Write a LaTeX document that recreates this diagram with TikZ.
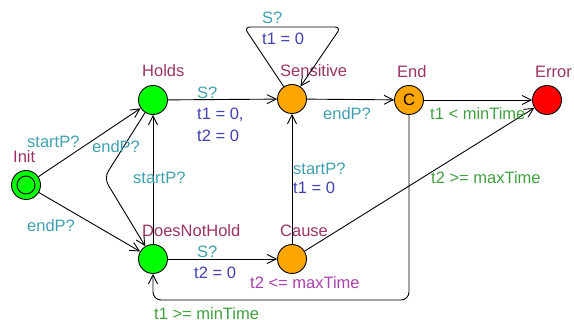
\documentclass[tikz,border=0pt]{standalone}
\usepackage{fontspec}
\setmainfont{Liberation Sans}
\usetikzlibrary{arrows.meta}

\definecolor{locname}{RGB}{153,51,102}
\definecolor{synccol}{RGB}{64,160,176}
\definecolor{assigncol}{RGB}{64,64,176}
\definecolor{guardcol}{RGB}{64,160,64}
\definecolor{invcol}{RGB}{170,64,170}
\definecolor{locorange}{RGB}{255,165,0}
\definecolor{locgreen}{RGB}{0,255,0}
\definecolor{locred}{RGB}{255,0,0}

\begin{document}
\begin{tikzpicture}[x=1pt,y=-1pt,
  loc/.style={circle, draw=black, line width=0.9pt, minimum size=29pt, inner sep=0pt},
  lbl/.style={anchor=west, inner sep=0pt, text height=16pt, text depth=2pt,
              font=\fontsize{16.5}{18}\selectfont},
  lname/.style={lbl, text=locname},
  synclbl/.style={lbl, text=synccol},
  assignlbl/.style={lbl, text=assigncol},
  guardlbl/.style={lbl, text=guardcol},
  invlbl/.style={lbl, text=invcol},
  edge/.style={draw=black, line width=0.9pt, -{Straight Barb[length=9pt,width=9pt]}}]

\useasboundingbox (0,0) rectangle (574,320);

% locations
\node[loc, fill=locgreen] (init) at (26,185) {};
\node[circle, draw=black, line width=0.9pt, minimum size=18pt, inner sep=0pt] (initmark) at (init) {};
\node[loc, fill=locgreen] (holds) at (153,100) {};
\node[loc, fill=locgreen] (dnh) at (153,259) {};
\node[loc, fill=locorange] (sens) at (292,99) {};
\node[loc, fill=locorange, font=\fontsize{16.5}{18}\selectfont] (end) at (409,100) {C};
\node[loc, fill=locred] (err) at (547,100) {};
\node[loc, fill=locorange] (cause) at (292,259) {};

% location names
\node[lname] (nInit) at (13,156) {Init};
\node[lname] (nHolds) at (142,70) {Holds};
\node[lname] (nSens) at (280,70) {Sensitive};
\node[lname] (nEnd) at (397,71) {End};
\node[lname] (nErr) at (535,71) {Error};
\node[lname] (nDnh) at (142,230) {DoesNotHold};
\node[lname] (nCause) at (280,230) {Cause};

% corner points of bent edges
\coordinate (bend) at (104,178);
\coordinate (loopL) at (244,27);
\coordinate (loopR) at (341,27);
\coordinate (c1) at (409,300);
\coordinate (c2) at (153,300);

% edges
\draw[edge] (init) -- (holds);
\draw[edge] (init) -- (dnh);
\draw[edge, rounded corners=8pt] (holds) -- (bend) -- (dnh);
\draw[edge] (dnh) -- (holds);
\draw[edge] (holds) -- (sens);
\draw[edge, rounded corners=6pt] (sens) -- (loopL) -- (loopR) -- (sens);
\draw[edge] (sens) -- (end);
\draw[edge] (end) -- (err);
\draw[edge] (cause) -- (err);
\draw[edge] (cause) -- (sens);
\draw[edge] (dnh) -- (cause);
\draw[edge, rounded corners=8pt] (end) -- (c1) -- (c2) -- (dnh);

% edge labels
\node[synclbl] (l1) at (27,141) {startP?};
\node[synclbl] (l2) at (92,146) {endP?};
\node[synclbl] (l3) at (133,177) {startP?};
\node[synclbl] (l4) at (27,225) {endP?};
\node[synclbl] (l5) at (197,92) {S?};
\node[assignlbl] (l6) at (197,113) {t1 = 0,};
\node[assignlbl] (l7) at (197,135) {t2 = 0};
\node[synclbl] (l8) at (262,17) {S?};
\node[assignlbl] (l9) at (262,38) {t1 = 0};
\node[synclbl] (l10) at (323,113) {endP?};
\node[guardlbl] (l11) at (430,113) {t1 < minTime};
\node[guardlbl] (l12) at (431,177) {t2 >= maxTime};
\node[synclbl] (l13) at (293,168) {startP?};
\node[assignlbl] (l14) at (293,187) {t1 = 0};
\node[synclbl] (l15) at (197,251) {S?};
\node[assignlbl] (l16) at (194,272) {t2 = 0};
\node[invlbl] (l17) at (250,282) {t2 <= maxTime};
\node[guardlbl] (l18) at (154,313) {t1 >= minTime};

\end{tikzpicture}
\end{document}
